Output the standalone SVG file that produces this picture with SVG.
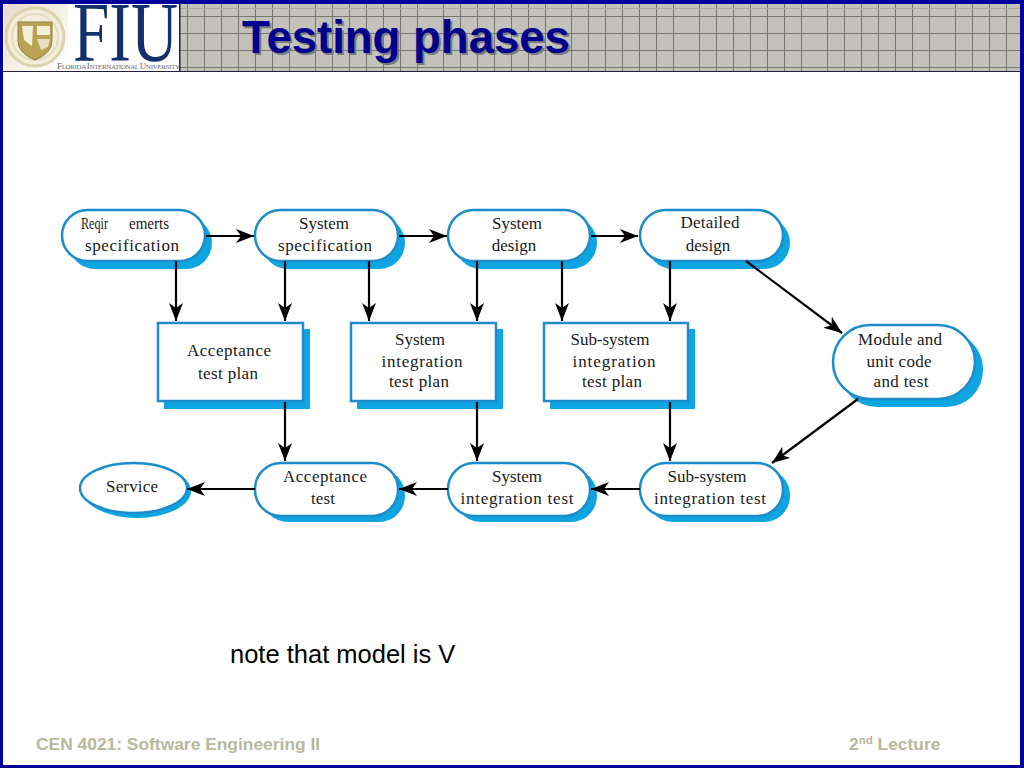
<svg xmlns="http://www.w3.org/2000/svg" width="1024" height="768" viewBox="0 0 1024 768">
<style>
.t{font-family:"Liberation Serif","Times New Roman",serif;font-size:17px;fill:#1a1a1a;text-anchor:middle}
.sh{fill:#0ea5e0}
.b{fill:#fff;stroke:#1c8ccc;stroke-width:2.5}
.c{fill:none;stroke:#000;stroke-width:2.2;marker-end:url(#a)}
.f{font-family:"Liberation Sans",Arial,sans-serif;font-size:17.4px;font-weight:bold;fill:#b8b89c}
.ttl{font-family:"Liberation Sans",Arial,sans-serif;font-size:45.5px;font-weight:bold}
.gl{stroke:#77776f;stroke-width:1;fill:none}
</style>
<defs>
<marker id="a" markerUnits="userSpaceOnUse" markerWidth="20" markerHeight="14" refX="18" refY="7" orient="auto"><path d="M0 0L18 7L0 14L5 7Z" fill="#000"/></marker>
<pattern id="g" width="128" height="80" patternUnits="userSpaceOnUse" x="187" y="0"><path class="gl" d="M0.500 0V80M17.500 0V80M34.500 0V80M51.500 0V80M68.500 0V80M85.500 0V80M102.500 0V80"/></pattern>
<linearGradient id="lg" x1="0" y1="0" x2="1" y2="1"><stop offset="0" stop-color="#e8d8d0"/><stop offset="0.5" stop-color="#f5f1e4"/><stop offset="1" stop-color="#fff"/></linearGradient>
</defs>
<rect width="1024" height="768" fill="#00009a"/>
<rect x="3" y="4" width="1017" height="761" fill="#fff"/>
<g id="header">
<rect x="180" y="4" width="840" height="67" fill="#c2c2ba"/>
<rect x="180" y="4" width="840" height="67" fill="url(#g)"/>
<path class="gl" d="M180 16.500H1020M180 33.500H1020M180 50.500H1020M180 67.500H1020"/>
<path d="M180 8.500H1020" stroke="#a8a89c" fill="none"/>
<rect x="3" y="71" width="1017" height="1" fill="#20203a"/>
<rect x="179" y="4" width="1.500" height="67" fill="#20203a"/>
</g>
<g id="logo">
<rect x="4" y="4" width="175" height="67" fill="#fff"/>
<rect x="4" y="4" width="64" height="67" fill="url(#lg)"/>
<circle cx="35" cy="37" r="29" fill="#f3eedc" stroke="#dcd3ae" stroke-width="3"/>
<circle cx="35" cy="37" r="23" fill="none" stroke="#e4dcbc" stroke-width="2"/>
<path d="M18 22H52V41Q52 53 35 60Q18 53 18 41Z" fill="#b9a254" stroke="#94803c"/>
<rect x="37" y="26" width="13" height="9" fill="#f4f0dc"/>
<path d="M22 26L33 26L32 46L24 40Z" fill="#f4f0dc"/>
<path d="M37 39L50 39L48 47L41 50Z" fill="#e6dfc4"/>
<text x="73" y="61" font-family="Liberation Serif,serif" font-size="85" fill="#14306c" textLength="105" lengthAdjust="spacingAndGlyphs">FIU</text>
<text x="57" y="69" font-family="Liberation Serif,serif" font-size="7" fill="#6a6a72" textLength="123"><tspan font-size="9">F</tspan>LORIDA <tspan font-size="9">I</tspan>NTERNATIONAL <tspan font-size="9">U</tspan>NIVERSITY</text>
</g>
<text class="ttl" x="244" y="55" fill="#7a7a80">Testing phases</text>
<text id="title" class="ttl" x="242" y="53" fill="#00008c">Testing phases</text>

<g id="n1"><rect class="sh" x="69" y="217" width="143" height="52" rx="26"/><rect class="b" x="62" y="210" width="143" height="51" rx="25.500"/>
<text class="t" x="81" y="229" style="text-anchor:start" textLength="27" lengthAdjust="spacingAndGlyphs">Reqir</text><text class="t" x="129" y="229" style="text-anchor:start" textLength="40" lengthAdjust="spacingAndGlyphs">emerts</text>
<text class="t" x="132" y="251" textLength="94">specification</text></g>
<g id="n2"><rect class="sh" x="262" y="217" width="143" height="52" rx="26"/><rect class="b" x="255" y="210" width="143" height="51" rx="25.500"/>
<text class="t" x="324" y="229" textLength="50">System</text><text class="t" x="325" y="251" textLength="94">specification</text></g>
<g id="n3"><rect class="sh" x="455" y="217" width="142" height="52" rx="26"/><rect class="b" x="448" y="210" width="142" height="51" rx="25.500"/>
<text class="t" x="517" y="229" textLength="50">System</text><text class="t" x="514" y="251">design</text></g>
<g id="n4"><rect class="sh" x="647" y="217" width="143" height="52" rx="26"/><rect class="b" x="640" y="210" width="143" height="51" rx="25.500"/>
<text class="t" x="710" y="228" textLength="59">Detailed</text><text class="t" x="708" y="251">design</text></g>

<g id="p1"><rect class="sh" x="164" y="329" width="146" height="80"/><rect class="b" x="158" y="323" width="145" height="78"/>
<text class="t" x="229" y="356" textLength="84">Acceptance</text><text class="t" x="228" y="379" textLength="60">test plan</text></g>
<g id="p2"><rect class="sh" x="357" y="329" width="146" height="80"/><rect class="b" x="351" y="323" width="145" height="78"/>
<text class="t" x="420" y="345" textLength="50">System</text><text class="t" x="422" y="367" textLength="81">integration</text><text class="t" x="419" y="387" textLength="60">test plan</text></g>
<g id="p3"><rect class="sh" x="550" y="329" width="145" height="80"/><rect class="b" x="544" y="323" width="144" height="78"/>
<text class="t" x="610" y="345" textLength="79">Sub-system</text><text class="t" x="614" y="367" textLength="83">integration</text><text class="t" x="612" y="387" textLength="60">test plan</text></g>

<g id="m"><rect class="sh" x="840" y="332" width="143" height="75" rx="37"/><rect class="b" x="833" y="325" width="142" height="74" rx="37"/>
<text class="t" x="900" y="345" textLength="84">Module and</text><text class="t" x="899" y="367" textLength="65">unit code</text><text class="t" x="901" y="387" textLength="55">and test</text></g>

<g id="s"><ellipse class="sh" cx="137" cy="491" rx="54" ry="27"/><ellipse class="b" cx="133.500" cy="488" rx="53.500" ry="25"/>
<text class="t" x="132" y="492" textLength="52">Service</text></g>
<g id="r1"><rect class="sh" x="262" y="469" width="143" height="53" rx="26"/><rect class="b" x="255" y="463" width="143" height="53" rx="26"/>
<text class="t" x="325" y="482" textLength="84">Acceptance</text><text class="t" x="323" y="504" textLength="24">test</text></g>
<g id="r2"><rect class="sh" x="455" y="469" width="142" height="53" rx="26"/><rect class="b" x="448" y="463" width="142" height="53" rx="26"/>
<text class="t" x="517" y="482" textLength="50">System</text><text class="t" x="517" y="504" textLength="113">integration test</text></g>
<g id="r3"><rect class="sh" x="647" y="469" width="143" height="53" rx="26"/><rect class="b" x="640" y="463" width="143" height="53" rx="26"/>
<text class="t" x="707" y="482" textLength="79">Sub-system</text><text class="t" x="710" y="504" textLength="112">integration test</text></g>

<g id="connectors">
<path class="c" d="M206 236H254"/>
<path class="c" d="M399 236H447"/>
<path class="c" d="M591 236H638"/>
<path class="c" d="M176 261V321"/>
<path class="c" d="M285 261V321"/>
<path class="c" d="M369 261V321"/>
<path class="c" d="M477 261V321"/>
<path class="c" d="M562 261V321"/>
<path class="c" d="M670 261V321"/>
<path class="c" d="M746 261L842 333"/>
<path class="c" d="M858 399L772 463"/>
<path class="c" d="M285 402V461"/>
<path class="c" d="M477 402V461"/>
<path class="c" d="M670 402V461"/>
<path class="c" d="M640 489H591"/>
<path class="c" d="M448 489H399"/>
<path class="c" d="M255 489H187"/>
</g>

<text id="note" x="230" y="663" font-family="Liberation Sans,Arial,sans-serif" font-size="25.500" fill="#000">note that model is V</text>
<text id="footer-left" class="f" x="36" y="750">CEN 4021: Software Engineering II</text>
<text id="footer-right" class="f" x="849" y="750">2<tspan font-size="11.500" dy="-6">nd</tspan><tspan dy="6"> Lecture</tspan></text>
</svg>
